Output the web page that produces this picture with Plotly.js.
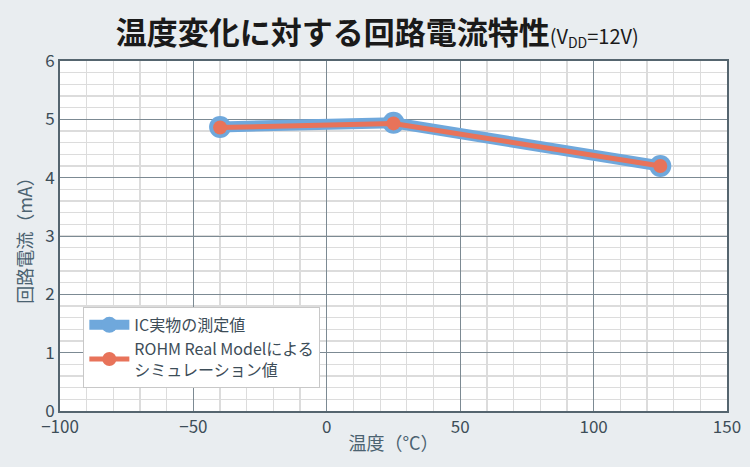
<!DOCTYPE html>
<html><head><meta charset="utf-8">
<script src="https://cdn.plot.ly/plotly-3.0.1.min.js"></script>
<style>html,body{margin:0;padding:0;background:#e9edf0;}#chart{width:750px;height:467px;}</style>
</head><body><div id="chart"></div>
<script>
const temps = [-40, 25, 125];
const measured = [4.87, 4.94, 4.20];
const simulated = [4.86, 4.93, 4.20];
const seriesNames = ["IC実物の測定値", "ROHM Real Modelによる<br>シミュレーション値"];
const xTicks = [-100, -50, 0, 50, 100, 150];
const xTickText = ["−100", "−50", "0", "50", "100", "150"];
const yTicks = [0, 1, 2, 3, 4, 5, 6];

const font = "'Noto Sans CJK JP', 'Noto Sans', sans-serif";
const data = [
  {x: temps, y: measured, name: seriesNames[0], type: "scatter", mode: "lines+markers",
   line: {color: "#6fa8dc", width: 11}, marker: {color: "#6fa8dc", size: 22}},
  {x: temps, y: simulated, name: seriesNames[1], type: "scatter", mode: "lines+markers",
   line: {color: "#e8735a", width: 5}, marker: {color: "#e8735a", size: 14}}
];
const layout = {
  width: 750, height: 467,
  paper_bgcolor: "#e9edf0", plot_bgcolor: "#ffffff",
  margin: {l: 60, r: 23, t: 61, b: 56},
  font: {family: font, color: "#3d4d58"},
  title: {text: "<b>温度変化に対する回路電流特性</b><span style='font-size:20px'>(V<sub>DD</sub>=12V)</span>",
    font: {family: font, size: 31, color: "#1a1a1a"}, x: 0.503, xanchor: "center", y: 0.93, yanchor: "middle"},
  xaxis: {range: [-100, 150], tickvals: xTicks, ticktext: xTickText, ticks: "",
    showgrid: true, gridcolor: "#7c8a93", gridwidth: 1, zeroline: false,
    showline: true, linecolor: "#55656f", linewidth: 2, mirror: true,
    minor: {dtick: 10, showgrid: true, gridcolor: "#dcdcdc", gridwidth: 1.3},
    tickfont: {size: 17, color: "#3d4d58"},
    title: {text: "温度（°C）", font: {size: 18, color: "#4b6270"}, standoff: 0}},
  yaxis: {range: [0, 6], tickvals: yTicks, ticks: "",
    showgrid: true, gridcolor: "#7c8a93", gridwidth: 1, zeroline: false,
    showline: true, linecolor: "#55656f", linewidth: 2, mirror: true,
    minor: {dtick: 0.2, showgrid: true, gridcolor: "#dcdcdc", gridwidth: 1.3},
    tickfont: {size: 17, color: "#3d4d58"},
    title: {text: "回路電流（mA）", font: {size: 18, color: "#4b6270"}, standoff: 8}},
  showlegend: true,
  legend: {x: 0.035, y: 0.066, xanchor: "left", yanchor: "bottom",
    bgcolor: "#ffffff", bordercolor: "#c8c8c8", borderwidth: 1,
    font: {size: 16, color: "#3d4d58"}, tracegroupgap: 0, itemwidth: 40}
};
Plotly.newPlot("chart", data, layout, {displayModeBar: false, staticPlot: true});
</script></body></html>
